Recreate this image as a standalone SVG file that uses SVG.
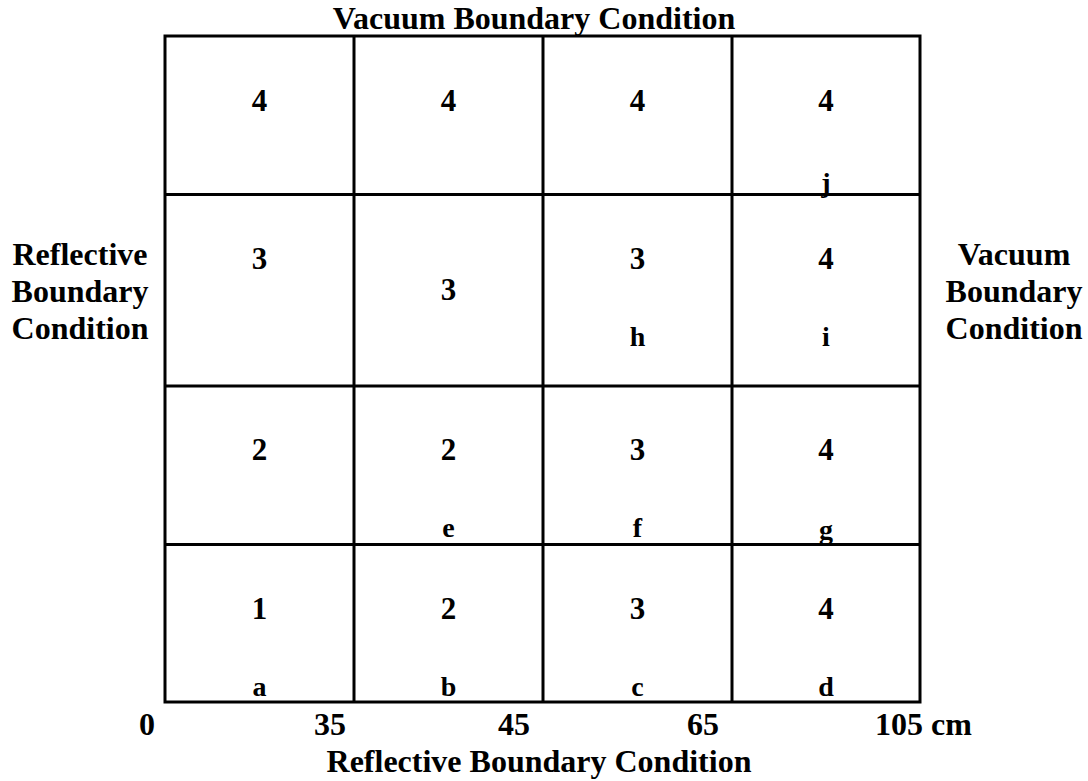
<svg xmlns="http://www.w3.org/2000/svg" width="1088" height="781" viewBox="0 0 1088 781">
<style>
text{font-family:"Liberation Serif","Times New Roman",serif;font-weight:bold;fill:#000}
.lbl{font-size:32px}
.num{font-size:31px;text-anchor:middle}
.let{font-size:28px;text-anchor:middle}
.c{text-anchor:middle}
.grid line,.grid rect{stroke:#000;stroke-width:3;fill:none}
</style>
<rect width="1088" height="781" fill="#fff"/>
<g id="grid" class="grid">
<rect x="165" y="36" width="755" height="666"/>
<line x1="354" y1="36" x2="354" y2="702"/>
<line x1="543" y1="36" x2="543" y2="702"/>
<line x1="732" y1="36" x2="732" y2="702"/>
<line x1="165" y1="194.5" x2="920" y2="194.5"/>
<line x1="165" y1="386" x2="920" y2="386"/>
<line x1="165" y1="544.5" x2="920" y2="544.5"/>
</g>
<g id="labels">
<text class="lbl c" x="534" y="29">Vacuum Boundary Condition</text>
<text class="lbl c" x="539" y="772">Reflective Boundary Condition</text>
<text class="lbl c" x="80" y="265">Reflective</text>
<text class="lbl c" x="80" y="302">Boundary</text>
<text class="lbl c" x="80" y="339">Condition</text>
<text class="lbl c" x="1014" y="265">Vacuum</text>
<text class="lbl c" x="1014" y="302">Boundary</text>
<text class="lbl c" x="1014" y="339">Condition</text>
</g>
<g id="axis">
<text class="lbl c" x="147" y="735">0</text>
<text class="lbl c" x="330" y="735">35</text>
<text class="lbl c" x="514" y="735">45</text>
<text class="lbl c" x="703" y="735">65</text>
<text class="lbl" x="875" y="735">105 cm</text>
</g>
<g id="row1">
<text class="num" x="259.5" y="111">4</text>
<text class="num" x="448.5" y="111">4</text>
<text class="num" x="637.5" y="111">4</text>
<text class="num" x="826" y="111">4</text>
<text class="let" x="826" y="192">j</text>
</g>
<g id="row2">
<text class="num" x="259.5" y="269">3</text>
<text class="num" x="448.5" y="300">3</text>
<text class="num" x="637.5" y="269">3</text>
<text class="num" x="826" y="269">4</text>
<text class="let" x="637.5" y="346">h</text>
<text class="let" x="826" y="346">i</text>
</g>
<g id="row3">
<text class="num" x="259.5" y="460">2</text>
<text class="num" x="448.5" y="460">2</text>
<text class="num" x="637.5" y="460">3</text>
<text class="num" x="826" y="460">4</text>
<text class="let" x="448.5" y="537">e</text>
<text class="let" x="637.5" y="537">f</text>
<text class="let" x="826" y="539">g</text>
</g>
<g id="row4">
<text class="num" x="259.5" y="619">1</text>
<text class="num" x="448.5" y="619">2</text>
<text class="num" x="637.5" y="619">3</text>
<text class="num" x="826" y="619">4</text>
<text class="let" x="259.5" y="696">a</text>
<text class="let" x="448.5" y="696">b</text>
<text class="let" x="637.5" y="696">c</text>
<text class="let" x="826" y="696">d</text>
</g>
</svg>
